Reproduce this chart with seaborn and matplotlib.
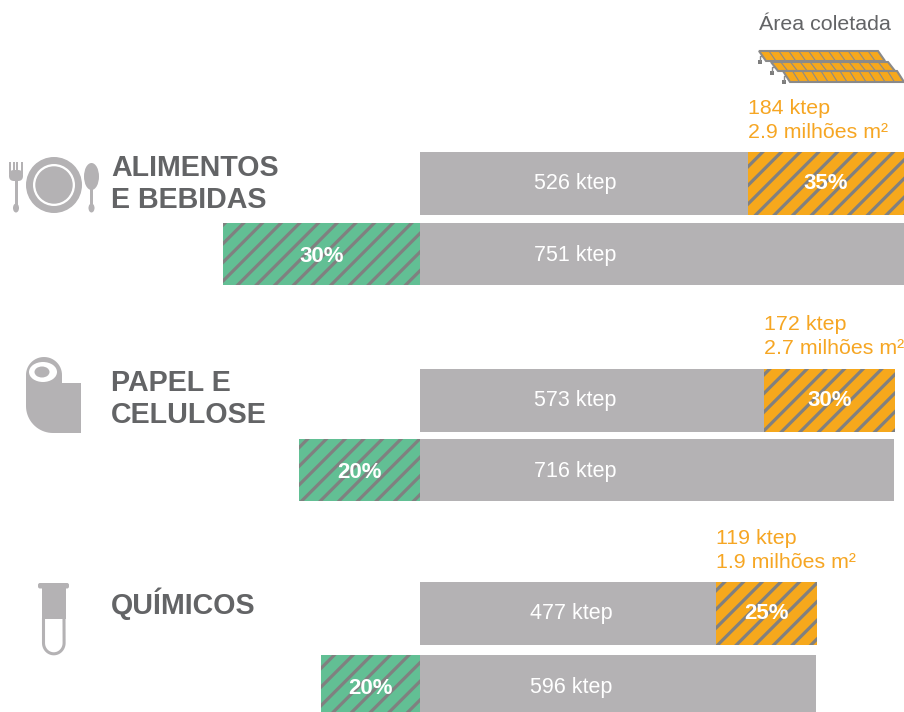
# -*- coding: utf-8 -*-
import numpy as np
import matplotlib
matplotlib.use('Agg')
import matplotlib.pyplot as plt
from matplotlib.patches import Circle, Ellipse, Polygon, Rectangle, FancyBboxPatch
import seaborn as sns

DPI = 112
PT = 100 / DPI  # sizes below were tuned at 100 dpi, stripes need the higher dpi

sns.set_theme(style='white')
plt.rcParams['font.family'] = ['Liberation Sans', 'DejaVu Sans']
plt.rcParams['hatch.linewidth'] = 2.3 * PT

# bar lengths (the drawing is not to scale with the ktep labels)
sectors = ['ALIMENTOS\nE BEBIDAS', 'PAPEL E\nCELULOSE', 'QUÍMICOS']
demand_len = [328, 344, 296]
solar_len = [156, 131, 101]
total_len = [484, 474, 396]
fossil_len = [-197, -121, -99]

demand_labels = ['526 ktep', '573 ktep', '477 ktep']
total_labels = ['751 ktep', '716 ktep', '596 ktep']
solar_pct = ['35%', '30%', '25%']
fossil_pct = ['30%', '20%', '20%']
solar_ktep = ['184 ktep', '172 ktep', '119 ktep']
solar_area = ['2.9 milhões m²', '2.7 milhões m²', '1.9 milhões m²']

GRAY = '#b4b2b4'
ORANGE = '#f6a81c'
GREEN = '#62bf94'
STRIPE = '#808080'
DARK = '#636466'

# layout
upper_top = [152, 369, 582]
upper_h = [63, 63, 63]
lower_top = [223, 439, 655]
lower_h = [62, 62, 58]
lower_shift = [2, 2, 4]
label_x = [155, 155, 151]
area_x = [748, 764, 716]
area_y = [108, 324, 538]
sector_y = [184, 399, 604]


def draw_bar(ax, left, length, top, h, color, striped=False):
    kw = dict(hatch='//', edgecolor=STRIPE, linewidth=0) if striped else dict(linewidth=0)
    sns.barplot(x=[length], y=[top + h / 2], orient='h', native_scale=True, width=h,
                left=left, color=color, saturation=1, errorbar=None, legend=False,
                ax=ax, **kw)


fig = plt.figure(figsize=(904 / DPI, 712 / DPI), dpi=DPI)

# bars: x=0 is the common start of the grey bars
ax = fig.add_axes([0, 0, 1, 1])
for i in range(3):
    draw_bar(ax, 0, demand_len[i], upper_top[i], upper_h[i], GRAY)
    draw_bar(ax, demand_len[i], solar_len[i], upper_top[i], upper_h[i], ORANGE, True)
    draw_bar(ax, 0, total_len[i], lower_top[i], lower_h[i], GRAY)
    draw_bar(ax, 0, fossil_len[i], lower_top[i], lower_h[i], GREEN, True)

    uy = upper_top[i] + upper_h[i] / 2
    ly = lower_top[i] + lower_h[i] / 2 + lower_shift[i]
    ax.text(label_x[i], uy, demand_labels[i], color='white', fontsize=15.5 * PT, ha='center', va='center')
    ax.text(label_x[i], ly, total_labels[i], color='white', fontsize=15.5 * PT, ha='center', va='center')
    ax.text(demand_len[i] + solar_len[i] / 2, uy, solar_pct[i], color='white', fontsize=16 * PT,
            fontweight='bold', ha='center', va='center')
    ax.text(fossil_len[i] / 2, ly, fossil_pct[i], color='white', fontsize=16 * PT,
            fontweight='bold', ha='center', va='center')
ax.set_xlim(-420, 484)
ax.set_ylim(712, 0)
ax.axis('off')

# everything else in picture coordinates
ov = fig.add_axes([0, 0, 1, 1])
ov.set_xlim(0, 904)
ov.set_ylim(712, 0)
ov.axis('off')
ov.patch.set_alpha(0)

for i in range(3):
    ov.text(111, sector_y[i], sectors[i], color=DARK, fontsize=20.6 * PT, fontweight='bold',
            ha='left', va='center', linespacing=1.2)
    ov.text(area_x[i], area_y[i], solar_ktep[i], color='#f6a623', fontsize=15.4 * PT, ha='left', va='center')
    ov.text(area_x[i], area_y[i] + 24, solar_area[i], color='#f6a623', fontsize=15.4 * PT, ha='left', va='center')

ov.text(825, 25, 'Área coletada', color=DARK, fontsize=15.4 * PT, ha='center', va='center')

# solar panels icon
panels = [(759, 878, 51, 61), (771, 888, 62, 71), (783, 897, 71, 82)]
for x0, x1, y0, y1 in panels:
    dx = 7
    ov.add_patch(Polygon([(x0, y0), (x1, y0), (x1 + dx, y1), (x0 + dx, y1)], closed=True,
                         facecolor=ORANGE, edgecolor='#8a8a8a', linewidth=1.5 * PT, zorder=3))
    for t in np.linspace(0, 1, 13)[1:-1]:
        xt = x0 + (x1 - x0) * t
        ov.plot([xt, xt + dx], [y0, y1], color='#8a8a8a', linewidth=0.8 * PT, zorder=4)
    ov.add_patch(Rectangle((x0 - 1, y0 + 9), 4, 4, color='#7d7d7d', linewidth=0, zorder=2))
    ov.plot([x0 + 1, x0 + 1, x0 + 3], [y0 + 10, y0 + 5, y0 + 5], color='#8a8a8a', linewidth=1 * PT, zorder=2)

# fork
ov.add_patch(Rectangle((14.5, 178), 3, 28, color=GRAY, linewidth=0))
ov.add_patch(Ellipse((16, 208), 6, 9, color=GRAY, linewidth=0))
ov.add_patch(FancyBboxPatch((9, 170), 14, 11, boxstyle='round,pad=0,rounding_size=5', color=GRAY, linewidth=0))
for fx in [9, 12.7, 16.4, 20.8]:
    ov.add_patch(Rectangle((fx, 162), 2, 12, color=GRAY, linewidth=0))

# plate
ov.add_patch(Circle((54, 185), 28, color=GRAY, linewidth=0))
ov.add_patch(Circle((54, 185), 21, color='white', linewidth=0))
ov.add_patch(Circle((54, 185), 18.7, color=GRAY, linewidth=0))

# spoon
ov.add_patch(Ellipse((91.5, 176.5), 15, 27, color=GRAY, linewidth=0))
ov.add_patch(Rectangle((90, 185), 3, 24, color=GRAY, linewidth=0))
ov.add_patch(Ellipse((91.5, 208), 6, 9, color=GRAY, linewidth=0))

# paper roll
th = np.linspace(np.pi, 0, 30)
roll_top = [(44 + 18 * np.cos(a), 375 - 18 * np.sin(a)) for a in th]
th2 = np.linspace(np.pi / 2, np.pi, 20)
roll_bottom = [(53 + 27 * np.cos(a), 406 + 27 * np.sin(a)) for a in th2]
roll = roll_top + [(62, 383), (81, 383), (81, 433)] + roll_bottom
ov.add_patch(Polygon(roll, closed=True, color=GRAY, linewidth=0))
ov.add_patch(Ellipse((43, 372), 28, 20, color='white', linewidth=0))
ov.add_patch(Ellipse((42, 372), 15, 11, color=GRAY, linewidth=0))

# test tube
ov.add_patch(FancyBboxPatch((38, 583), 31, 5.5, boxstyle='round,pad=0,rounding_size=2', color=GRAY, linewidth=0))
ov.add_patch(Rectangle((42, 587), 24, 32, color=GRAY, linewidth=0))
th3 = np.linspace(np.pi, 0, 30)
ov.plot(np.r_[43.5, 53.8 + 10.3 * np.cos(th3), 64],
        np.r_[618, 643 + 10.8 * np.sin(th3), 618],
        color=GRAY, linewidth=2.2 * PT, solid_capstyle='butt')

fig.savefig('out.png', dpi=DPI)
